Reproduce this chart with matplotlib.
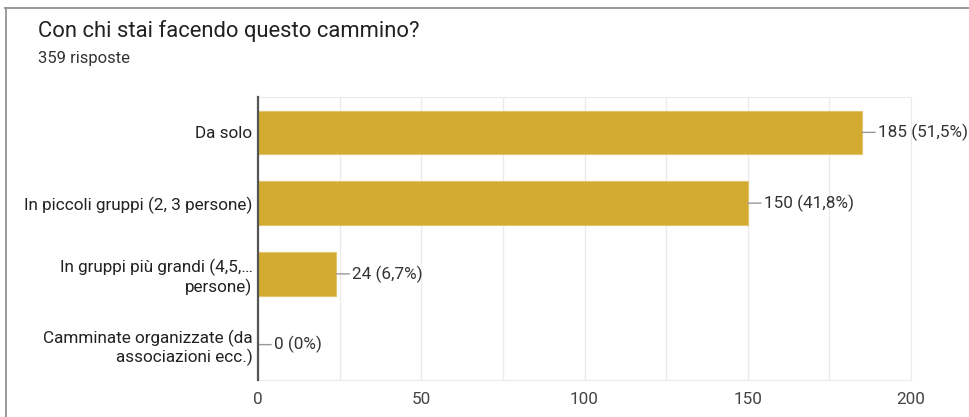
import matplotlib.pyplot as plt
from matplotlib.lines import Line2D
import numpy as np

plt.rcParams['font.family'] = ['Roboto', 'DejaVu Sans']

# dati
categorie = [
    "Da solo",
    "In piccoli gruppi (2, 3 persone)",
    "In gruppi più grandi (4,5,…\npersone)",
    "Camminate organizzate (da\nassociazioni ecc.)",
]
risposte = [185, 150, 24, 0]
etichette = ["185 (51,5%)", "150 (41,8%)", "24 (6,7%)", "0 (0%)"]
titolo = "Con chi stai facendo questo cammino?"
sottotitolo = "359 risposte"

W, H = 970, 417
fig = plt.figure(figsize=(W / 100, H / 100), dpi=100)

# cornice della scheda
fig.add_artist(Line2D([5 / W, 1], [1 - 8 / H, 1 - 8 / H], color='#8a8a8a', lw=1.2))
fig.add_artist(Line2D([6 / W, 6 / W], [0, 1 - 8 / H], color='#8a8a8a', lw=1.2))

fig.text(38 / W, 1 - 31 / H, titolo, fontsize=15.8, color='#212121', va='center', ha='left')
fig.text(38 / W, 1 - 59 / H, sottotitolo, fontsize=12, color='#333333', va='center', ha='left')

ax = fig.add_axes([258 / W, 1 - 380 / H, (911 - 258) / W, (380 - 97) / H])
y = np.arange(len(categorie))
ax.barh(y, risposte, height=0.615, color='#d3ab30', edgecolor='#e2c46e', lw=0.8, zorder=3)

for yi, v, lab in zip(y, risposte, etichette):
    ax.annotate(lab, xy=(v, yi), xytext=(16, 0), textcoords='offset pixels',
                ha='left', va='center', fontsize=12.3, color='#333333',
                arrowprops=dict(arrowstyle='-', color='#999999', lw=1, shrinkA=0, shrinkB=0),
                zorder=4)

ax.set_xlim(0, 200)
ax.set_ylim(3.5, -0.5)
ax.set_xticks([0, 50, 100, 150, 200])
ax.set_xticks(np.arange(25, 200, 50), minor=True)
ax.set_yticks(y)
ax.set_yticklabels(categorie, fontsize=12.3, color='#222222')
ax.tick_params(axis='y', length=0, pad=4)
ax.tick_params(axis='x', which='both', length=0, pad=9, labelsize=12.3, labelcolor='#444444')
ax.grid(axis='x', which='both', color='#ebebeb', lw=1, zorder=0)
for s in ['top', 'right', 'bottom']:
    ax.spines[s].set_color('#ebebeb')
ax.spines['left'].set_color('#555555')
ax.spines['left'].set_linewidth(1.6)
ax.spines['left'].set_zorder(5)

fig.savefig('out.png', dpi=100)
